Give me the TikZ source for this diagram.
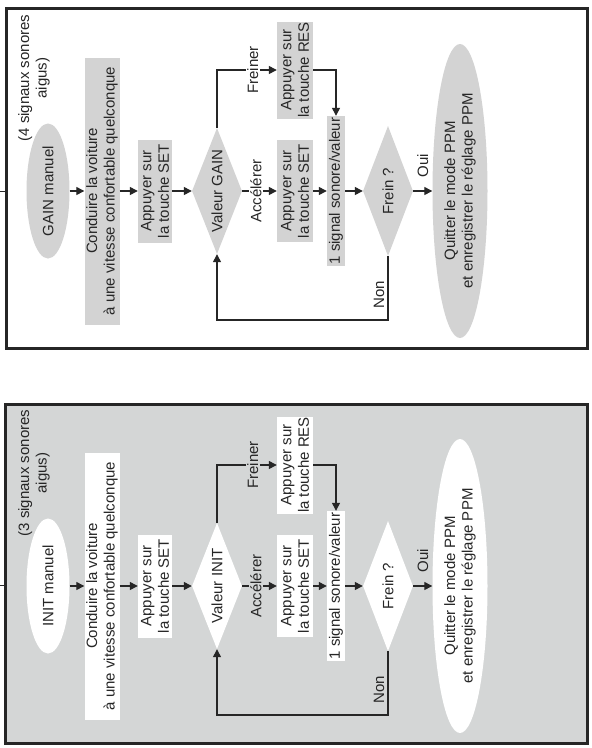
\documentclass[tikz,border=0pt]{standalone}
\usepackage{fontspec}
\setmainfont{Liberation Sans}
\usetikzlibrary{shapes.geometric,arrows.meta}
\definecolor{shapegrey}{HTML}{D3D3D3}
\definecolor{panelgrey}{HTML}{D4D6D6}
\definecolor{ink}{HTML}{262626}
\tikzset{
  txt/.style={font=\fontsize{15}{17.5}\selectfont, text=ink, align=center},
  shapefill/.style={fill=shapegrey},
  labelfill/.style={fill=white},
  procbox/.style={txt, rectangle, inner sep=0pt, shapefill},
  terminal/.style={txt, ellipse, inner sep=0pt, shapefill},
  decision/.style={txt, diamond, inner sep=0pt, shapefill},
  notetext/.style={txt, inner sep=0pt},
  flow/.style={draw=ink, line width=1.3pt, -{Triangle[length=8pt,width=8pt]}},
  edgelabel/.style={txt, labelfill, inner sep=1.5pt},
  sidelabel/.style={txt, inner sep=1pt},
  panelframe/.style={draw=ink, line width=3pt},
}
\newcommand\flowpanel[2]{%
  \node[notetext] (note) at (-78,-34) {(#1 signaux sonores\\aigus)};
  \node[terminal, minimum width=135pt, minimum height=43pt] (start) at (-191,-48) {#2 manuel};
  \node[procbox, minimum width=267pt, minimum height=35pt] (drive) at (-191,-102) {Conduire la voiture\\à une vitesse confortable quelconque};
  \node[procbox, minimum width=103pt, minimum height=34pt] (set1) at (-191,-155) {Appuyer sur\\la touche SET};
  \node[decision, minimum width=126pt, minimum height=50pt, label={[txt]center:Valeur #2}] (d1) at (-191,-217) {};
  \node[procbox, minimum width=102pt, minimum height=36pt] (set2) at (-191,-295) {Appuyer sur\\la touche SET};
  \node[procbox, minimum width=97pt, minimum height=36pt] (res) at (-70,-295) {Appuyer sur\\la touche RES};
  \node[procbox, minimum width=150pt, minimum height=18pt] (sig) at (-191,-336) {1 signal sonore/valeur};
  \node[decision, minimum width=130pt, minimum height=50pt, label={[txt]center:Frein ?}] (d2) at (-191,-388) {};
  \node[terminal, minimum width=294pt, minimum height=55pt] (quit) at (-191,-460) {Quitter le mode PPM\\et enregistrer le réglage PPM};
  \coordinate (loop) at (-320,-217);
  \draw[flow] (start) -- (drive);
  \draw[flow] (drive) -- (set1);
  \draw[flow] (set1) -- (d1);
  \draw[flow] (d1) -- node[edgelabel, pos=0.4] {Accélérer} (set2);
  \draw[flow] (d1.east) -| node[edgelabel, pos=0.8] {Freiner} (res);
  \draw[flow] (res.south) |- (sig.east);
  \draw[flow] (set2) -- (sig);
  \draw[flow] (sig) -- (d2);
  \draw[flow] (d2) -- node[sidelabel, right=12pt] {Oui} (quit);
  \draw[flow] (d2.west) -| node[sidelabel, pos=0.3, above=2pt] {Non} (loop) -- (d1.west);
}
\begin{document}
\begin{tikzpicture}[x=1pt,y=1pt]
  \useasboundingbox (0,0) rectangle (592,-748);
  \fill[white] (0,0) rectangle (592,-748);
  \draw[panelframe] (6,-8) rectangle (587,-348);
  \draw[panelframe, fill=panelgrey] (5,-404) rectangle (587,-743);
  \draw[draw=ink, line width=1pt] (0,-191) -- (5,-191);
  \draw[draw=ink, line width=1pt] (0,-585) -- (4,-585);
  \begin{scope}[rotate=90, transform shape]
    \begin{scope}[name prefix=top-]
      \flowpanel{4}{GAIN}
    \end{scope}
    \begin{scope}[name prefix=bot-, shift={(-395,0)}, shapefill/.style={fill=white}, labelfill/.style={fill=panelgrey}]
      \flowpanel{3}{INIT}
    \end{scope}
  \end{scope}
\end{tikzpicture}
\end{document}
